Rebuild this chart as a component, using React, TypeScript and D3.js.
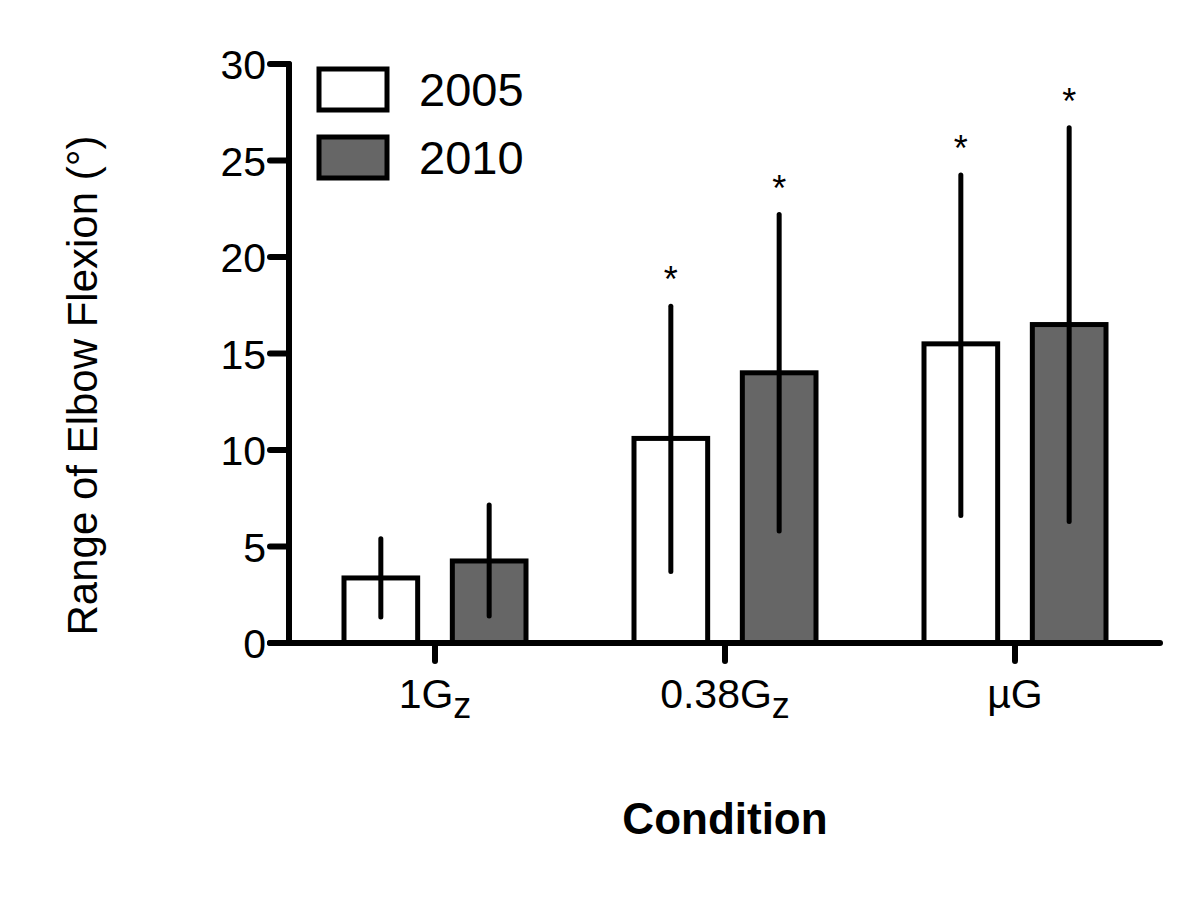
import React from "react";
import * as d3 from "d3";

const categories = ["1G", "0.38G", "µG"];
const subscripts = ["z", "z", ""];
const series = ["2005", "2010"];
const means2005 = [3.37, 10.6, 15.5];
const means2010 = [4.25, 14.0, 16.5];
const errLow2005 = [1.35, 3.7, 6.6];
const errHigh2005 = [5.4, 17.45, 24.25];
const errLow2010 = [1.4, 5.8, 6.3];
const errHigh2010 = [7.15, 22.2, 26.7];
const significant2005 = [false, true, true];
const significant2010 = [false, true, true];
const yTicks = [0, 5, 10, 15, 20, 25, 30];

const FONT = "'Liberation Sans', Arial, Helvetica, sans-serif";
const fills = ["#ffffff", "#666666"];

export default function App() {
  const W = 1200, H = 901;
  const x0 = 290, x1 = 1160;
  const y = d3.scaleLinear().domain([0, 30]).range([643, 64]);
  const xBand = d3.scaleBand<string>().domain(categories).range([x0, x1]).paddingInner(0).paddingOuter(0);
  const xInner = d3.scaleBand<string>().domain(series).range([0, 182]).paddingInner(0.32);
  const groupOffset = (xBand.bandwidth() - 182) / 2;

  const data = series.map((s, si) => ({
    s,
    means: si === 0 ? means2005 : means2010,
    lo: si === 0 ? errLow2005 : errLow2010,
    hi: si === 0 ? errHigh2005 : errHigh2010,
    sig: si === 0 ? significant2005 : significant2010,
    fill: fills[si],
  }));

  return (
    <svg width={W} height={H} style={{ position: "absolute", left: 0, top: 0, background: "#fff" }} fontFamily={FONT}>
      {/* bars */}
      {data.map((d) =>
        categories.map((c, ci) => {
          const bx = (xBand(c) as number) + groupOffset + (xInner(d.s) as number);
          const bw = xInner.bandwidth();
          const cx = bx + bw / 2;
          return (
            <g key={d.s + c}>
              <rect x={bx} y={y(d.means[ci])} width={bw} height={y(0) - y(d.means[ci])}
                fill={d.fill} stroke="#000" strokeWidth={5} />
              <line x1={cx} x2={cx} y1={y(d.hi[ci])} y2={y(d.lo[ci])} stroke="#000" strokeWidth={5} strokeLinecap="round" />
              {d.sig[ci] && (
                <text x={cx} y={y(d.hi[ci]) - 14} textAnchor="middle" fontSize={36}>*</text>
              )}
            </g>
          );
        })
      )}
      {/* y axis */}
      <line x1={x0 - 1} x2={x0 - 1} y1={y(30)} y2={y(0)} stroke="#000" strokeWidth={6} strokeLinecap="round" />
      {yTicks.map((t) => (
        <g key={t}>
          <line x1={270} x2={x0 - 1} y1={y(t)} y2={y(t)} stroke="#000" strokeWidth={6} strokeLinecap="round" />
          <text x={266} y={y(t) + 15} textAnchor="end" fontSize={41}>{t}</text>
        </g>
      ))}
      {/* x axis */}
      <line x1={270} x2={x1} y1={y(0)} y2={y(0)} stroke="#000" strokeWidth={6} strokeLinecap="round" />
      {categories.map((c, ci) => {
        const cx = (xBand(c) as number) + xBand.bandwidth() / 2;
        return (
          <g key={c}>
            <line x1={cx} x2={cx} y1={y(0)} y2={y(0) + 18} stroke="#000" strokeWidth={6} strokeLinecap="round" />
            <text x={cx} y={708} textAnchor="middle" fontSize={41}>
              {c}
              {subscripts[ci] && <tspan fontSize={36} dy={10}>{subscripts[ci]}</tspan>}
            </text>
          </g>
        );
      })}
      {/* legend */}
      {data.map((d, i) => (
        <g key={"leg" + d.s}>
          <rect x={319} y={69 + i * 68} width={68} height={41} fill={d.fill} stroke="#000" strokeWidth={5} />
          <text x={419} y={106 + i * 68} fontSize={47}>{d.s}</text>
        </g>
      ))}
      {/* axis titles */}
      <text transform={`translate(97, ${(y(0) + y(30)) / 2 + 32}) rotate(-90)`} textAnchor="middle" fontSize={42}>
        Range of Elbow Flexion (°)
      </text>
      <text x={725} y={834} textAnchor="middle" fontSize={44} fontWeight="bold">Condition</text>
    </svg>
  );
}
